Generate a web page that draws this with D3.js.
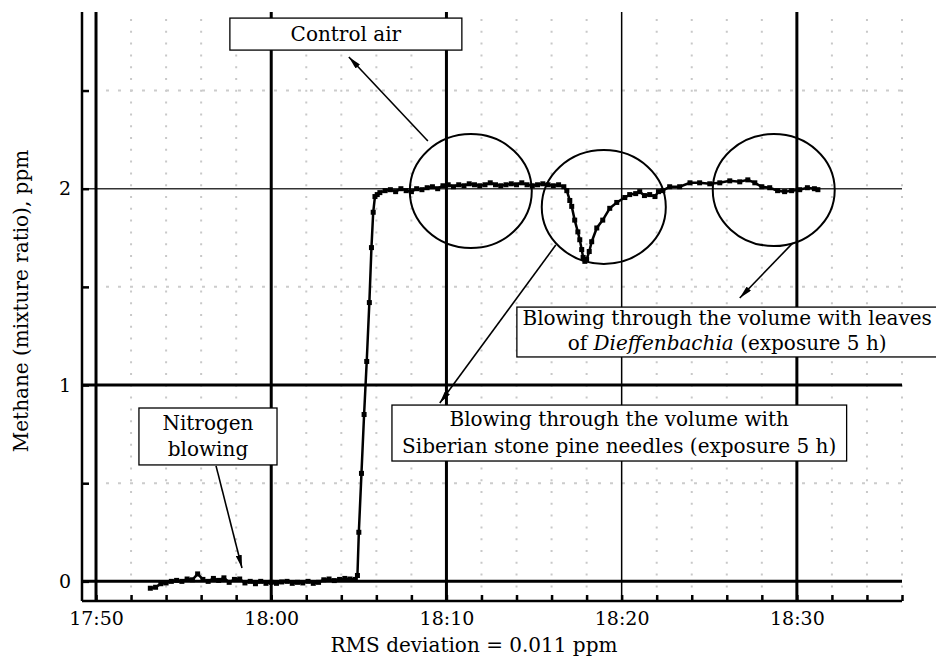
<!DOCTYPE html>
<html>
<head>
<meta charset="utf-8">
<script src="https://cdn.jsdelivr.net/npm/d3@7"></script>
<style>
  html, body { margin: 0; padding: 0; background: #fff; }
  svg { display: block; }
  text { font-family: "DejaVu Serif", serif; fill: #000; }
</style>
</head>
<body>
<svg id="chart" width="936" height="657"></svg>
<script>
// ---- data (time in minutes after 17:50, methane in ppm) ----
const minutes = [
  3.1,3.4,3.7,4.0,4.3,4.6,4.9,5.2,5.5,5.8,6.1,6.4,6.7,7.0,7.3,7.6,7.9,8.2,8.5,8.8,
  9.1,9.4,9.7,10.0,10.3,10.6,10.9,11.2,11.5,11.8,12.1,12.4,12.7,13.0,13.3,13.6,13.9,14.2,14.5,14.8,
  14.92,15.0,15.15,15.3,15.45,15.6,15.72,15.82,15.92,16.05,
  16.2,16.5,16.8,17.1,17.4,17.7,18.0,18.3,18.6,18.9,19.2,19.5,19.8,20.1,20.4,20.7,21.0,21.3,
  21.6,21.9,22.2,22.5,22.8,23.1,23.4,23.7,24.0,24.3,24.6,24.9,25.2,25.5,25.8,26.1,26.4,26.7,
  26.87,27.04,27.15,27.32,27.5,27.61,27.72,27.8,27.9,28.0,28.15,28.29,28.58,28.92,29.32,29.72,
  30.18,30.46,30.8,31.03,31.3,31.6,31.9,32.1,32.35,32.74,
  33.31,33.9,34.45,35.03,35.6,36.17,36.74,37.2,37.6,38.0,38.45,38.9,39.3,39.7,40.16,40.6,41.0,41.2
];
const methane = [
  -0.035,-0.03,-0.012,-0.008,0.0,0.005,0.0,0.012,0.008,0.038,0.01,0.0,0.015,0.005,0.018,-0.005,0.01,0.012,-0.008,0.0,
  -0.012,0.0,-0.01,-0.005,-0.01,-0.003,0.0,-0.01,-0.005,-0.008,0.0,-0.01,-0.005,0.008,0.012,0.004,0.01,0.015,0.012,0.01,
  0.03,0.25,0.55,0.85,1.12,1.42,1.7,1.88,1.96,1.97,
  1.98,1.99,1.995,1.985,2.0,1.99,1.985,2.0,1.995,2.005,2.01,2.0,2.015,2.02,2.01,2.02,2.015,2.025,
  2.02,2.015,2.02,2.03,2.02,2.015,2.02,2.025,2.02,2.03,2.02,2.015,2.02,2.025,2.02,2.015,2.02,2.01,
  1.99,1.94,1.91,1.84,1.78,1.74,1.69,1.65,1.63,1.64,1.68,1.73,1.8,1.84,1.9,1.93,
  1.955,1.97,1.975,1.985,1.965,1.97,1.96,1.985,1.99,2.01,
  2.01,2.03,2.03,2.025,2.03,2.04,2.035,2.045,2.03,2.01,2.005,1.99,1.985,1.99,1.995,2.005,2.0,1.995
];

const xMajorTicks = [0, 10, 20, 30, 40];
const xTickLabels = ["17:50", "18:00", "18:10", "18:20", "18:30"];
const xAllTicks = [0,2,4,6,8,10,12,14,16,18,20,22,24,26,28,30,32,34,36,38,40,42,44,46];
const yMajorTicks = [0, 1, 2];
const yTickLabels = ["0", "1", "2"];
const yMinorTicks = [0.5, 1.5, 2.5];

const xTitle = "RMS deviation = 0.011 ppm";
const yTitle = "Methane (mixture ratio), ppm";

// ---- scales ----
const X0 = -0.8, X1 = 46;
const x = d3.scaleLinear().domain([X0, X1]).range([82, 902]);
const y = d3.scaleLinear().domain([-0.1, 2.9]).range([601, 12]);

const svg = d3.select("#chart");
const FS = 19;   // tick labels
const FA = 20;   // titles and annotations

// ---- defs: arrowhead ----
svg.append("defs").append("marker")
  .attr("id", "arrow")
  .attr("viewBox", "0 0 13 6")
  .attr("markerUnits", "userSpaceOnUse")
  .attr("markerWidth", 13).attr("markerHeight", 6)
  .attr("refX", 13).attr("refY", 3)
  .attr("orient", "auto")
  .append("path").attr("d", "M0,0 L13,3 L0,6 Z").attr("fill", "#000");

// ---- dotted grid ----
const minorX = xAllTicks.filter(d => !xMajorTicks.includes(d));
svg.append("g").selectAll("line").data(minorX).join("line")
  .attr("x1", d => x(d)).attr("x2", d => x(d))
  .attr("y1", y(2.9) + 7).attr("y2", y(-0.1))
  .attr("stroke", "#c8c8c8").attr("stroke-width", 2)
  .attr("stroke-dasharray", "2,9.8");
svg.append("g").selectAll("line").data(yMinorTicks).join("line")
  .attr("x1", x(X0) + 24).attr("x2", x(X1))
  .attr("y1", d => y(d)).attr("y2", d => y(d))
  .attr("stroke", "#cccccc").attr("stroke-width", 2)
  .attr("stroke-dasharray", "3,9");

// ---- major grid ----
svg.append("g").selectAll("line").data(yMajorTicks).join("line")
  .attr("x1", x(X0)).attr("x2", x(X1))
  .attr("y1", d => y(d)).attr("y2", d => y(d))
  .attr("stroke", d => d === 2 ? "#333" : "#000")
  .attr("stroke-width", d => d === 2 ? 1.5 : 3);
svg.append("g").selectAll("line").data(xMajorTicks).join("line")
  .attr("x1", d => x(d)).attr("x2", d => x(d))
  .attr("y1", y(2.9)).attr("y2", y(-0.1))
  .attr("stroke", "#000")
  .attr("stroke-width", d => d === 30 ? 1.5 : 3);

// ---- axes ----
const xAxis = d3.axisBottom(x).tickValues(xAllTicks).tickSize(-6).tickPadding(11)
  .tickFormat(d => { const i = xMajorTicks.indexOf(d); return i >= 0 ? xTickLabels[i] : ""; });
const gx = svg.append("g").attr("transform", `translate(0,${y(-0.1)})`).call(xAxis);
gx.select(".domain").attr("stroke-width", 2.5).attr("d", `M${x(X0)},0H${x(X1)}`);
gx.selectAll(".tick line").attr("stroke-width", 2.5);
gx.selectAll("text").style("font-family", "DejaVu Serif").style("font-size", FS + "px").attr("fill", "#000");

const yAxis = d3.axisLeft(y).tickValues([0, 0.5, 1, 1.5, 2, 2.5]).tickSize(-7).tickPadding(11)
  .tickFormat(d => { const i = yMajorTicks.indexOf(d); return i >= 0 ? yTickLabels[i] : ""; });
const gy = svg.append("g").attr("transform", `translate(${x(X0)},0)`).call(yAxis);
gy.select(".domain").attr("stroke-width", 2.5).attr("d", `M0,${y(2.9)}V${y(-0.1)}`);
gy.selectAll(".tick line").attr("stroke-width", 2.5);
gy.selectAll("text").style("font-family", "DejaVu Serif").style("font-size", FS + "px").attr("fill", "#000");

// ---- titles ----
svg.append("text").attr("x", 474).attr("y", 652).attr("text-anchor", "middle")
  .style("font-size", FA + "px").text(xTitle);
svg.append("text").attr("transform", "translate(28,301) rotate(-90)")
  .attr("text-anchor", "middle").style("font-size", FA + "px").text(yTitle);

// ---- data series ----
const pts = minutes.map((m, i) => [m, methane[i]]);
svg.append("path").datum(pts)
  .attr("d", d3.line().x(d => x(d[0])).y(d => y(d[1])))
  .attr("fill", "none").attr("stroke", "#000").attr("stroke-width", 2.5);
svg.append("g").selectAll("rect").data(pts).join("rect")
  .attr("x", d => x(d[0]) - 2.5).attr("y", d => y(d[1]) - 2.5)
  .attr("width", 5).attr("height", 5).attr("fill", "#000");

// ---- ellipses (in data coordinates) ----
const ellipses = [
  { t: 21.39, v: 1.988, rt: 3.48, rv: 0.29 },
  { t: 28.98, v: 1.907, rt: 3.54, rv: 0.29 },
  { t: 38.68, v: 1.993, rt: 3.48, rv: 0.285 }
];
svg.append("g").selectAll("ellipse").data(ellipses).join("ellipse")
  .attr("cx", d => x(d.t)).attr("cy", d => y(d.v))
  .attr("rx", d => x(d.t + d.rt) - x(d.t)).attr("ry", d => y(d.v - d.rv) - y(d.v))
  .attr("fill", "none").attr("stroke", "#000").attr("stroke-width", 2);

// ---- arrows (data coordinates) ----
const arrows = [
  { t1: 18.94, v1: 2.243, t2: 14.43, v2: 2.671 },
  { t1: 26.24, v1: 1.713, t2: 19.62, v2: 0.908 },
  { t1: 39.76, v1: 1.723, t2: 36.74, v2: 1.443 },
  { t1: 6.85, v1: 0.588, t2: 8.33, v2: 0.068 }
];
svg.append("g").selectAll("line").data(arrows).join("line")
  .attr("x1", d => x(d.t1)).attr("y1", d => y(d.v1))
  .attr("x2", d => x(d.t2)).attr("y2", d => y(d.v2))
  .attr("stroke", "#000").attr("stroke-width", 1.6)
  .attr("marker-end", "url(#arrow)");

// ---- annotation boxes (data coordinates) ----
const boxes = [
  { t0: 7.64, t1: 20.88, v0: 2.706, v1: 2.869, tc: 14.26, lines: [[["Control air", false]]], vLines: [2.787] },
  { t0: 24.02, t1: 48.3, v0: 1.143, v1: 1.397, tc: 36.02,
    lines: [[["Blowing through the volume with leaves", false]],
            [["of ", false], ["Dieffenbachia", true], [" (exposure 5 h)", false]]],
    vLines: [1.341, 1.214] },
  { t0: 16.89, t1: 42.84, v0: 0.613, v1: 0.898, tc: 29.86,
    lines: [[["Blowing through the volume with", false]],
            [["Siberian stone pine needles (exposure 5 h)", false]]],
    vLines: [0.827, 0.689] },
  { t0: 2.45, t1: 10.33, v0: 0.593, v1: 0.883, tc: 6.39,
    lines: [[["Nitrogen", false]], [["blowing", false]]],
    vLines: [0.807, 0.674] }
];
const gb = svg.append("g");
boxes.forEach(b => {
  gb.append("rect")
    .attr("x", x(b.t0)).attr("y", y(b.v1))
    .attr("width", x(b.t1) - x(b.t0)).attr("height", y(b.v0) - y(b.v1))
    .attr("fill", "#fff").attr("stroke", "#000").attr("stroke-width", 1.3);
  b.lines.forEach((ln, i) => {
    const t = gb.append("text").attr("x", x(b.tc)).attr("y", y(b.vLines[i]))
      .attr("text-anchor", "middle").attr("dominant-baseline", "central")
      .style("font-size", FA + "px");
    ln.forEach(([s, it]) => {
      t.append("tspan").text(s).style("font-style", it ? "italic" : "normal");
    });
  });
});
</script>
</body>
</html>
